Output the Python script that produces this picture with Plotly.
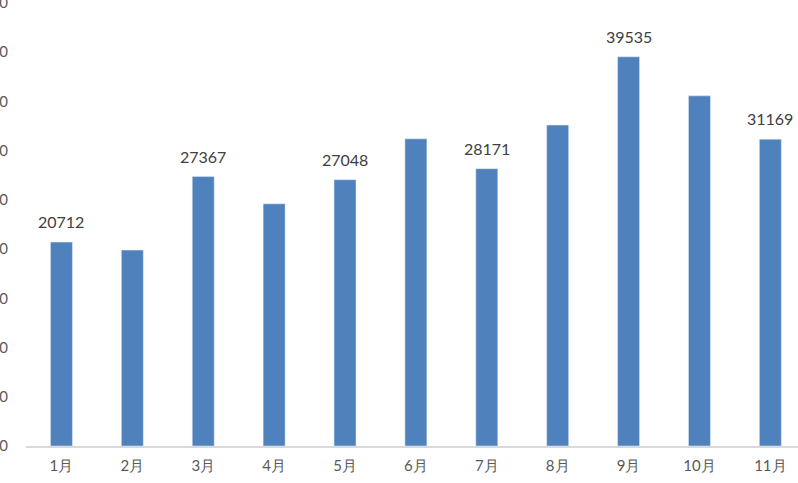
import plotly.graph_objects as go

months = ["1月", "2月", "3月", "4月", "5月", "6月", "7月", "8月", "9月", "10月", "11月"]
values = [20712, 19900, 27367, 24600, 27048, 31200, 28171, 32600, 39535, 35570, 31169]
label_flags = [True, False, True, False, True, False, True, False, True, False, True]
y_ticks = [0, 5000, 10000, 15000, 20000, 25000, 30000, 35000, 40000, 45000]
y_tick_text = [str(t) for t in y_ticks]

fig = go.Figure()
fig.add_trace(go.Bar(
    x=months, y=values, marker_color="#4F81BD", width=0.31,
    hoverinfo="skip",
))

for m, v, f in zip(months, values, label_flags):
    if f:
        fig.add_annotation(x=m, y=v, text=str(v), showarrow=False,
                           yanchor="bottom", yshift=9,
                           font=dict(family="Lato, Carlito, sans-serif", size=16, color="#404040"))

fig.update_layout(
    width=798, height=483,
    margin=dict(l=26, r=0, t=3, b=37, autoexpand=False),
    paper_bgcolor="white", plot_bgcolor="white",
    showlegend=False,
    font=dict(family="Lato, Carlito, sans-serif", size=15, color="#595959"),
    xaxis=dict(range=[-0.5, 10.39], showline=True, linecolor="#D9D9D9", linewidth=1.5,
               ticks="", showgrid=False, zeroline=False, fixedrange=True, automargin=False,
               ticklabelstandoff=5, tickfont=dict(size=15, color="#595959")),
    yaxis=dict(range=[0, 45000], tickvals=y_ticks, ticktext=y_tick_text, showgrid=False,
               zeroline=False, showline=False, ticks="", ticklabelstandoff=17, automargin=False,
               ticklabeloverflow="allow", fixedrange=True,
               tickfont=dict(size=15, color="#595959")),
)

fig.write_html("out.html", config={"displayModeBar": False, "staticPlot": True},
               post_script="document.body.style.margin='0';document.body.style.overflow='hidden';")
